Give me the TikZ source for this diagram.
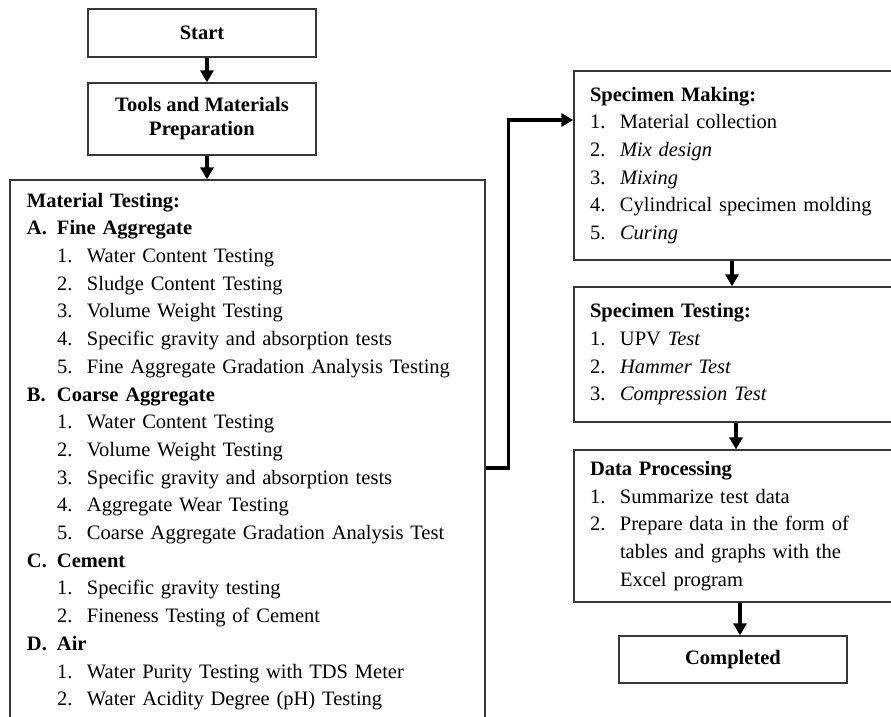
\documentclass[tikz,border=0pt]{standalone}
\usepackage{fontspec}
\setmainfont{Liberation Serif}
\usetikzlibrary{arrows.meta,positioning}
\definecolor{boxline}{RGB}{55,55,55}
\newcommand{\nm}[1]{\makebox[30pt][l]{#1}}
\newcommand{\sub}{\hspace*{30pt}}

\begin{document}
\begin{tikzpicture}[
    x=1pt, y=-1pt,
    stepbox/.style={draw=boxline, line width=1.3pt, font=\bfseries\fontsize{20.5}{24}\selectfont, align=center, inner sep=0pt, minimum width=228pt},
    listbox/.style={draw=boxline, line width=1.3pt, font=\fontsize{20.5}{27.7}\selectfont, align=left, inner xsep=16pt, inner ysep=0pt, text width=300pt},
    flowarrow/.style={line width=3.3pt, -{Triangle[length=12pt,width=13pt]}}
  ]
  \useasboundingbox (0,0) rectangle (891,717);

  % left column
  \node[stepbox, minimum height=48pt] (start) at (202,33) {Start};
  \node[stepbox, minimum height=72pt] (tools) at (202,119) {Tools and Materials\\Preparation};

  \node[listbox, inner xsep=17pt, text width=441pt, minimum height=543pt] (mattest) at (247.5,451.5) {
    \textbf{Material Testing:}\\
    \textbf{\nm{A.}Fine Aggregate}\\
    \sub\nm{1.}Water Content Testing\\
    \sub\nm{2.}Sludge Content Testing\\
    \sub\nm{3.}Volume Weight Testing\\
    \sub\nm{4.}Specific gravity and absorption tests\\
    \sub\nm{5.}Fine Aggregate Gradation Analysis Testing\\
    \textbf{\nm{B.}Coarse Aggregate}\\
    \sub\nm{1.}Water Content Testing\\
    \sub\nm{2.}Volume Weight Testing\\
    \sub\nm{3.}Specific gravity and absorption tests\\
    \sub\nm{4.}Aggregate Wear Testing\\
    \sub\nm{5.}Coarse Aggregate Gradation Analysis Test\\
    \textbf{\nm{C.}Cement}\\
    \sub\nm{1.}Specific gravity testing\\
    \sub\nm{2.}Fineness Testing of Cement\\
    \textbf{\nm{D.}Air}\\
    \sub\nm{1.}Water Purity Testing with TDS Meter\\
    \sub\nm{2.}Water Acidity Degree (pH) Testing
  };

  % right column
  \node[listbox, minimum height=189pt] (making) at (740,165.5) {
    \textbf{Specimen Making:}\\
    \nm{1.}Material collection\\
    \nm{2.}\textit{Mix design}\\
    \nm{3.}\textit{Mixing}\\
    \nm{4.}Cylindrical specimen molding\\
    \nm{5.}\textit{Curing}
  };
  \node[listbox, minimum height=135pt] (testing) at (740,354.5) {
    \textbf{Specimen Testing:}\\
    \nm{1.}UPV \textit{Test}\\
    \nm{2.}\textit{Hammer Test}\\
    \nm{3.}\textit{Compression Test}
  };
  \node[listbox, minimum height=152pt] (data) at (740,526) {
    \textbf{Data Processing}\\
    \nm{1.}Summarize test data\\
    \nm{2.}Prepare data in the form of\\
    \sub tables and graphs with the\\
    \sub Excel program
  };
  \node[stepbox, minimum height=47pt] (done) at (733,659.5) {Completed};

  % arrows
  \draw[flowarrow] ([xshift=5pt]start.south) -- ([xshift=5pt]tools.north);
  \draw[flowarrow] ([xshift=5pt]tools.south) -- ([xshift=5pt]tools.south |- mattest.north);
  \draw[flowarrow] ([yshift=-16.5pt]mattest.east) -- ++(23,0) |- ([yshift=45.5pt]making.west);
  \draw[flowarrow] ([xshift=-8pt]making.south) -- ([xshift=-8pt]testing.north);
  \draw[flowarrow] ([xshift=-4pt]testing.south) -- ([xshift=-4pt]testing.south |- data.north);
  \draw[flowarrow] (data.south) -- (data.south |- done.north);
\end{tikzpicture}
\end{document}
